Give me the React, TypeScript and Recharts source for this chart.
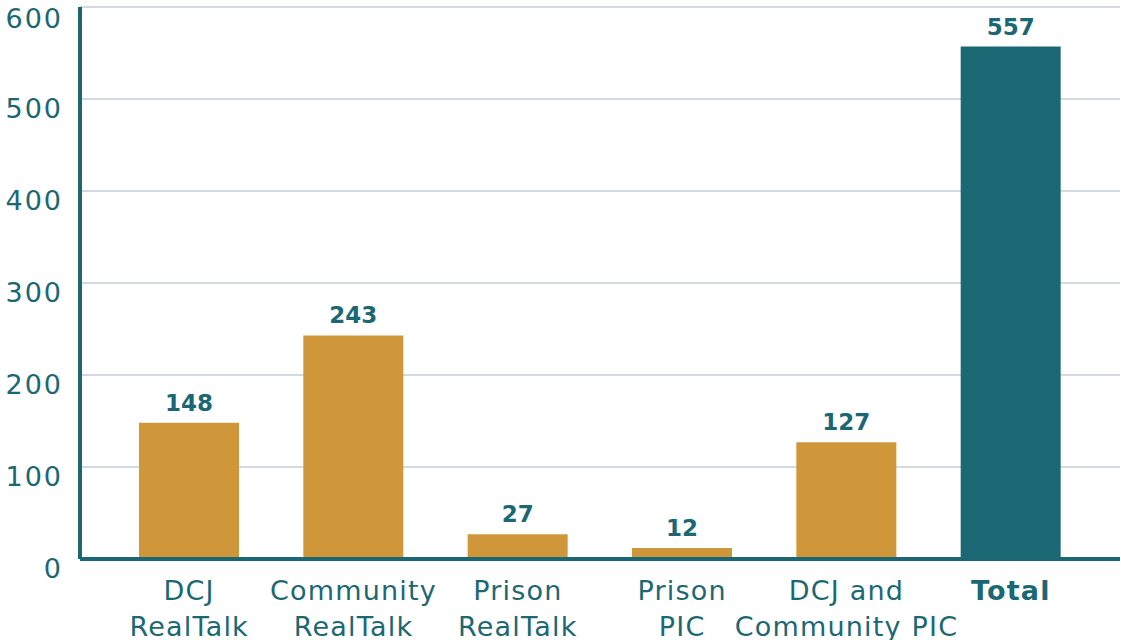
import { Bar, BarChart, CartesianGrid, Cell, LabelList, XAxis, YAxis } from "recharts"

// Participants by program, with the overall total as the last bar.
const categories = [
  "DCJ RealTalk",
  "Community RealTalk",
  "Prison RealTalk",
  "Prison PIC",
  "DCJ and Community PIC",
  "Total",
]
const tickLines = [
  ["DCJ", "RealTalk"],
  ["Community", "RealTalk"],
  ["Prison", "RealTalk"],
  ["Prison", "PIC"],
  ["DCJ and", "Community PIC"],
  ["Total"],
]
const participants = [148, 243, 27, 12, 127, 557]
const yTicks = [0, 100, 200, 300, 400, 500, 600]

const GOLD = "#cf973a"
const TEAL = "#1b6874"
const GRID = "#c5ced6"
const FONT = "'DejaVu Sans', sans-serif"

const data = categories.map((name, i) => ({ name, value: participants[i] }))

function XTick({ x, y, payload }: any) {
  const lines = tickLines[payload.index] ?? [payload.value]
  const bold = payload.value === "Total"
  return (
    <text
      x={x}
      y={y}
      textAnchor="middle"
      fill={TEAL}
      fontFamily={FONT}
      fontSize={27}
      fontWeight={bold ? 700 : 400}
      letterSpacing={1.2}
    >
      {lines.map((line, i) => (
        <tspan key={i} x={x} y={y + 33 + i * 36}>
          {line}
        </tspan>
      ))}
    </text>
  )
}

function YTick({ y, payload }: any) {
  return (
    <text
      x={63}
      y={y + 19}
      textAnchor="end"
      fill={TEAL}
      fontFamily={FONT}
      fontSize={27}
      letterSpacing={2}
    >
      {payload.value}
    </text>
  )
}

export default function App() {
  return (
    <div style={{ position: "fixed", left: 0, top: 0, background: "#fff" }}>
      <BarChart
        width={1121}
        height={640}
        data={data}
        margin={{ top: 7, right: 1, bottom: 0, left: 0 }}
      >
        <CartesianGrid stroke={GRID} strokeWidth={1.5} vertical={false} />
        <XAxis
          dataKey="name"
          height={81}
          interval={0}
          padding={{ left: 27, right: 27 }}
          tickLine={false}
          axisLine={{ stroke: TEAL, strokeWidth: 4 }}
          tick={<XTick />}
        />
        <YAxis
          width={80}
          domain={[0, 600]}
          ticks={yTicks}
          tickLine={false}
          axisLine={{ stroke: TEAL, strokeWidth: 4 }}
          tick={<YTick />}
        />
        <Bar dataKey="value" barSize={100} isAnimationActive={false}>
          {data.map((d) => (
            <Cell key={d.name} fill={d.name === "Total" ? TEAL : GOLD} />
          ))}
          <LabelList
            dataKey="value"
            position="top"
            offset={12}
            fill={TEAL}
            fontFamily={FONT}
            fontSize={23}
            fontWeight={700}
          />
        </Bar>
      </BarChart>
    </div>
  )
}
